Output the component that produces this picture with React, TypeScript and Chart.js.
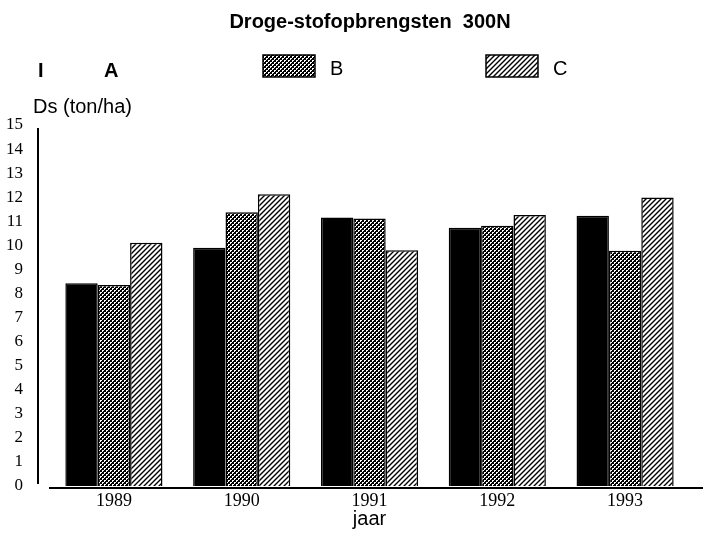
import React, { useEffect, useRef } from 'react';
import { Chart, registerables } from 'chart.js';

Chart.register(...registerables);

const years = ['1989', '1990', '1991', '1992', '1993'];
const seriesA = [8.42, 9.9, 11.16, 10.73, 11.23];
const seriesB = [8.35, 11.37, 11.12, 10.81, 9.78];
const seriesC = [10.11, 12.12, 9.8, 11.26, 11.99];
const seriesNames = ['A', 'B', 'C'];
const yMin = 0;
const yMax = 15;
const titleText = 'Droge-stofopbrengsten  300N';
const yTitle = 'Ds (ton/ha)';
const xTitle = 'jaar';

function makeDotPattern(): CanvasPattern | string {
  const c = document.createElement('canvas');
  c.width = 4;
  c.height = 4;
  const g = c.getContext('2d');
  if (!g) return '#444';
  g.fillStyle = '#000';
  g.fillRect(0, 0, 4, 4);
  g.fillStyle = '#fff';
  g.fillRect(0, 0, 2, 1);
  g.fillRect(0, 1, 1, 1);
  g.fillRect(2, 2, 2, 1);
  g.fillRect(2, 3, 1, 1);
  const p = g.createPattern(c, 'repeat');
  return p || '#444';
}

function makeHatchPattern(): CanvasPattern | string {
  const s = 5;
  const c = document.createElement('canvas');
  c.width = s;
  c.height = s;
  const g = c.getContext('2d');
  if (!g) return '#aaa';
  g.fillStyle = '#fff';
  g.fillRect(0, 0, s, s);
  g.strokeStyle = '#000';
  g.lineWidth = 1.4;
  g.beginPath();
  g.moveTo(-1, 1);
  g.lineTo(1, -1);
  g.moveTo(0, s);
  g.lineTo(s, 0);
  g.moveTo(s - 1, s + 1);
  g.lineTo(s + 1, s - 1);
  g.stroke();
  const p = g.createPattern(c, 'repeat');
  return p || '#aaa';
}

export default function App() {
  const ref = useRef<HTMLCanvasElement | null>(null);

  useEffect(() => {
    const canvas = ref.current;
    if (!canvas) return;
    const dots = makeDotPattern();
    const hatch = makeHatchPattern();

    const decor = {
      id: 'decor',
      afterDraw(chart: any) {
        const ctx = chart.ctx as CanvasRenderingContext2D;
        const yScale = chart.scales.y;
        const area = chart.chartArea;
        ctx.save();
        ctx.fillStyle = '#000';
        ctx.textBaseline = 'alphabetic';
        // title
        ctx.font = 'bold 20px "Liberation Sans", Arial, sans-serif';
        ctx.textAlign = 'center';
        ctx.fillText(titleText, 370, 28);
        // legend
        ctx.textAlign = 'left';
        ctx.font = 'bold 20px "Liberation Sans", Arial, sans-serif';
        ctx.fillText('I', 38, 77);
        ctx.fillText(seriesNames[0], 104, 77);
        ctx.font = '20px "Liberation Sans", Arial, sans-serif';
        ctx.fillStyle = dots as any;
        ctx.fillRect(263, 55, 52, 22);
        ctx.strokeStyle = '#000';
        ctx.lineWidth = 1.5;
        ctx.strokeRect(263, 55, 52, 22);
        ctx.fillStyle = '#000';
        ctx.fillText(seriesNames[1], 330, 75);
        ctx.fillStyle = hatch as any;
        ctx.fillRect(486, 55, 52, 22);
        ctx.strokeRect(486, 55, 52, 22);
        ctx.fillStyle = '#000';
        ctx.fillText(seriesNames[2], 553, 75);
        // y title
        ctx.fillText(yTitle, 33, 113);
        // y axis line
        const y0 = yScale.getPixelForValue(yMin);
        const y15 = yScale.getPixelForValue(yMax);
        ctx.lineWidth = 2;
        ctx.beginPath();
        ctx.moveTo(area.left - 12, y15 + 3);
        ctx.lineTo(area.left - 12, y0 - 2);
        ctx.stroke();
        // baseline
        ctx.beginPath();
        ctx.moveTo(area.left - 1, y0 + 2);
        ctx.lineTo(703, y0 + 2);
        ctx.stroke();
        ctx.restore();
      },
    };

    const chart = new Chart(canvas, {
      type: 'bar',
      data: {
        labels: years,
        datasets: [
          {
            label: seriesNames[0],
            data: seriesA,
            backgroundColor: '#000',
            borderColor: '#000',
            borderWidth: 1.5,
          },
          {
            label: seriesNames[1],
            data: seriesB,
            backgroundColor: dots as any,
            borderColor: '#000',
            borderWidth: 1.5,
          },
          {
            label: seriesNames[2],
            data: seriesC,
            backgroundColor: hatch as any,
            borderColor: '#000',
            borderWidth: 1.5,
          },
        ],
      },
      options: {
        responsive: false,
        animation: false,
        devicePixelRatio: 1,
        layout: { padding: { top: 125, right: 14, left: 0, bottom: 0 } },
        datasets: {
          bar: { categoryPercentage: 0.76, barPercentage: 1.0 },
        },
        plugins: {
          legend: { display: false },
          title: { display: false },
          tooltip: { enabled: false },
        },
        scales: {
          x: {
            type: 'category',
            offset: true,
            grid: { display: false, drawTicks: false },
            border: { display: false },
            ticks: {
              color: '#000',
              padding: 4,
              font: { family: '"Liberation Serif", "Times New Roman", serif', size: 18 },
            },
            title: {
              display: true,
              text: xTitle,
              color: '#000',
              font: { family: '"Liberation Sans", Arial, sans-serif', size: 20 },
              padding: { top: 0, bottom: 4 },
            },
            afterFit: (s: any) => {
              s.height = 49;
            },
          },
          y: {
            min: yMin,
            max: yMax,
            grid: { display: false, drawTicks: false },
            border: { display: false },
            ticks: {
              stepSize: 1,
              color: '#000',
              padding: 27,
              font: { family: '"Liberation Serif", "Times New Roman", serif', size: 17 },
            },
            afterFit: (s: any) => {
              s.width = 50;
            },
          },
        },
      },
      plugins: [decor],
    });

    return () => {
      chart.destroy();
    };
  }, []);

  return (
    <div style={{ position: 'absolute', left: 0, top: 0, width: 703, height: 535, background: '#fff' }}>
      <canvas ref={ref} width={703} height={535} style={{ display: 'block' }} />
    </div>
  );
}
